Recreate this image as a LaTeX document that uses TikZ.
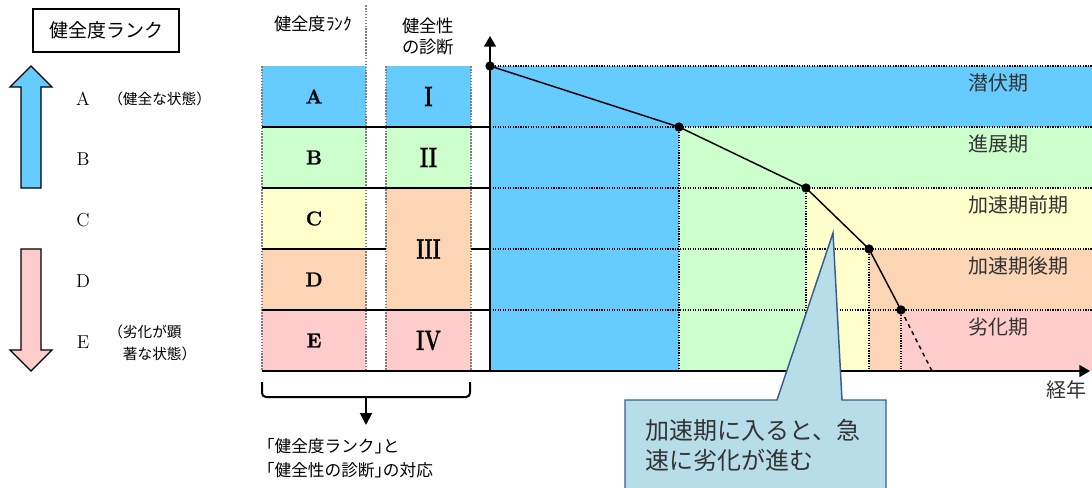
\documentclass[tikz,border=0pt]{standalone}
\usepackage{fontspec}
\usepackage{graphicx}
\usetikzlibrary{arrows.meta,calc}
\newfontfamily\jpfont{Noto Sans CJK JP}
\newfontfamily\jphalt{Noto Sans CJK JP}[RawFeature=+halt]
\newfontfamily\heavyserif{Latin Modern Roman}[FakeBold=1.2]
\definecolor{rankblue}{RGB}{102,204,255}
\definecolor{rankgreen}{RGB}{204,255,204}
\definecolor{rankyellow}{RGB}{255,255,204}
\definecolor{rankorange}{RGB}{252,213,180}
\definecolor{rankpink}{RGB}{255,204,204}
\definecolor{calloutfill}{RGB}{183,221,232}
\definecolor{calloutdraw}{RGB}{56,93,138}

\begin{document}
\begin{tikzpicture}[
        x=0.75pt, y=-0.75pt,
        jptext/.style 2 args={font=\jpfont\fontsize{#1}{#2}\selectfont, inner sep=0pt},
        rank/.style={font=\fontsize{14}{14}\selectfont, inner sep=0pt},
        cell/.style={font=\heavyserif\bfseries\fontsize{15}{15}\selectfont, inner sep=0pt},
        numeral/.style={font=\heavyserif\bfseries\fontsize{21}{21}\selectfont, inner sep=0pt},
        colborder/.style={draw=gray, line width=1.2pt, densely dotted},
        rowline/.style={line width=1.5pt},
        grid/.style={densely dotted, line width=0.9pt},
        axis/.style={line width=1.1pt, -{Triangle[length=8pt,width=9pt]}},
        stage/.style={font=\jpfont\fontsize{15}{15}\selectfont, text=black!80, anchor=west, inner sep=0pt},
        dot/.style={circle, fill, inner sep=0pt, minimum size=7pt}
    ]
        \useasboundingbox (0,0) rectangle (1092,488);

        % Legend
        \node[draw, line width=1.1pt, minimum width=109.5pt, minimum height=32pt, jptext={14.25}{14.25}] (title) at (106,30.5) {健全度ランク};
        \draw[fill=rankblue, line width=0.8pt] (31,66) -- (52,87) -- (41,87) -- (41,188) -- (21,188) -- (21,87) -- (10,87) -- cycle;
        \draw[fill=rankpink, line width=0.8pt] (31,371) -- (52,350) -- (41,350) -- (41,249) -- (21,249) -- (21,350) -- (10,350) -- cycle;
        \foreach \l [count=\i from 0] in {A,B,C,D,E}
            \node[rank] (lg\l) at (83,{98.5+61*\i}) {\l};
        \node[jptext={11}{11}, anchor=west] (good) at (108,99) {（健全な状態）};
        \node[jptext={11}{16.5}, anchor=west, align=left] (bad) at (108,343) {（劣化が顕\\\hspace*{1em}著な状態）};

        % Table
        \node[jptext={13}{13}] (hrank) at (313,24) {健全度ﾗﾝｸ};
        \node[jptext={13}{15.75}, align=center] (hdiag) at (428,36.5) {健全性\\の診断};
        \foreach \l/\c [count=\i from 0] in {A/rankblue,B/rankgreen,C/rankyellow,D/rankorange,E/rankpink}{
            \fill[\c] (262,{66+61*\i}) rectangle (366,{127+61*\i});
            \node[cell] (c\l) at (314,{96.5+61*\i}) {\l};
        }
        \fill[rankblue] (386,66) rectangle (471,127);
        \fill[rankgreen] (386,127) rectangle (471,188);
        \fill[rankorange] (386,188) rectangle (471,310);
        \fill[rankpink] (386,310) rectangle (471,371);
        \node[numeral] (dI) at (428.5,96.5) {\scalebox{.7}[1]{I}};
        \node[numeral] (dII) at (428.5,157.5) {\scalebox{.7}[1]{II}};
        \node[numeral] (dIII) at (428.5,249) {\scalebox{.65}[1]{III}};
        \node[numeral] (dIV) at (428.5,340.5) {\scalebox{.7}[1]{IV}};
        \draw[colborder] (262,66) -- (262,371);
        \draw[colborder] (366,5) -- (366,371);
        \draw[colborder] (386,66) -- (386,371);
        \draw[colborder] (471,66) -- (471,371);
        \foreach \y in {127,188,310,371}
            \draw[rowline] (262,\y) -- (490,\y);
        \draw[rowline] (262,249) -- (386,249) (471,249) -- (490,249);

        % Chart bands
        \foreach \x/\xn/\c [count=\i from 0] in {490/679/rankblue,679/806/rankgreen,806/869/rankyellow,869/901/rankorange,901/1092/rankpink}{
            \fill[\c] (\x,{66+61*\i}) rectangle (1092,{127+61*\i});
            \fill[\c] (\x,{127+61*\i}) rectangle (\xn,371);
        }
        \foreach \x [count=\i from 0] in {490,679,806,869,901}{
            \draw[grid] (490,{66+61*\i}) -- (1092,{66+61*\i});
            \draw[grid] (\x,{66+61*\i}) -- (\x,371);
        }
        \foreach \st [count=\i from 0] in {潜伏期,進展期,加速期前期,加速期後期,劣化期}
            \node[stage] (s\i) at (968,{83+61*\i}) {\st};

        % Axes
        \coordinate (o) at (490,371);
        \coordinate (ytip) at (490,36);
        \coordinate (xtip) at (1090,371);
        \draw[axis] (o) -- (ytip);
        \draw[axis] (o) -- (xtip);
        \node[jptext={15}{15}, text=black!80] (years) at (1066,390) {経年};

        % Deterioration curve
        \foreach \x/\y [count=\i from 0] in {490/66,679/127,806/188,869/249,901/310}
            \coordinate (p\i) at (\x,\y);
        \coordinate (pend) at (932,371);
        \draw[line width=1.1pt] (p0) -- (p1) -- (p2) -- (p3) -- (p4);
        \draw[line width=1.1pt, dashed] (p4) -- (pend);
        \foreach \i in {0,...,4}
            \node[dot] (d\i) at (p\i) {};

        % Callout
        \draw[fill=calloutfill, draw=calloutdraw, line width=1.1pt] (625,400) -- (777,400) -- (833,233) -- (842,400) -- (886,400) -- (886,495) -- (625,495) -- cycle;
        \node[jptext={18}{22.5}, align=left, anchor=west, text=black!80] (note) at (645,445) {加速期に入ると、急\\速に劣化が進む};

        % Bracket
        \draw[line width=1.5pt, rounded corners=3pt] (262,382) -- (262,397) -- (470,397) -- (470,382);
        \coordinate (brk) at (366,397);
        \coordinate (brktip) at (366,425);
        \draw[line width=1.5pt, -{Triangle[length=9pt,width=9pt]}] (brk) -- (brktip);
        \node[font=\jphalt\fontsize{12.5}{18}\selectfont, inner sep=0pt, align=left, anchor=west] (corr) at (266,458) {「健全度ランク」と\\「健全性の診断」の対応};
    \end{tikzpicture}
\end{document}
